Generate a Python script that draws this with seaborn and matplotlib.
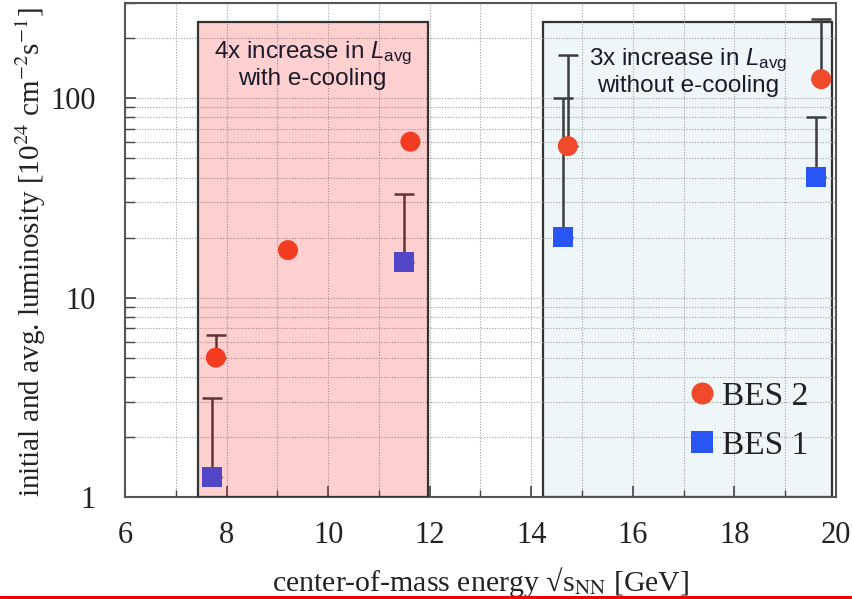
import numpy as np
import pandas as pd
import matplotlib
matplotlib.use("Agg")
import matplotlib.pyplot as plt
import seaborn as sns
from matplotlib.patches import Rectangle
from matplotlib.lines import Line2D
from matplotlib.ticker import MultipleLocator, LogLocator, NullFormatter

# ---------------- data ----------------
bes2_energy = [7.79, 9.21, 11.62, 14.72, 19.71]
bes2_lum = [5.0, 17.3, 60.5, 57.5, 124.5]
bes2_upper = [6.5, np.nan, np.nan, 164.0, 249.0]

bes1_energy = [7.72, 11.50, 14.62, 19.61]
bes1_lum = [1.26, 15.1, 20.1, 40.2]
bes1_upper = [3.13, 33.0, 100.0, 80.0]

region_lines1 = [r"4x increase in $\mathit{L}_{\mathrm{avg}}$",
                 r"3x increase in $\mathit{L}_{\mathrm{avg}}$"]
region_lines2 = ["with e-cooling", "without e-cooling"]
region_start = [7.43, 14.24]
region_end = [11.96, 19.92]
region_top = 240.0

x_ticks = [6, 8, 10, 12, 14, 16, 18, 20]
y_ticks = [1, 10, 100]
y_tick_labels = ["1", "10", "100"]

# ---------------- style ----------------
sns.set_theme(style="white")
plt.rcParams["font.family"] = ["Liberation Serif", "DejaVu Serif"]
plt.rcParams["mathtext.fontset"] = "custom"
plt.rcParams["mathtext.rm"] = "Liberation Sans"
plt.rcParams["mathtext.it"] = "Liberation Sans:italic"
plt.rcParams["mathtext.bf"] = "Liberation Sans:bold"

fig = plt.figure(figsize=(8.53, 5.99), dpi=100)
ax = fig.add_axes([0.1465, 0.1703, 0.8335, 0.8247])
ax.set_yscale("log")
ax.set_xlim(6, 20)
ax.set_ylim(1, 300)

df = pd.concat([
    pd.DataFrame({"energy": bes2_energy, "lum": bes2_lum, "series": "BES 2"}),
    pd.DataFrame({"energy": bes1_energy, "lum": bes1_lum, "series": "BES 1"}),
], ignore_index=True)

# region boxes: the e-cooling box is a translucent overlay, the other sits beneath
fills = [(1.0, 0.03, 0.0, 0.19), "#eef6f8"]
for i in range(2):
    z = 4 if i == 0 else 0.2
    ax.add_patch(Rectangle((region_start[i], 1), region_end[i] - region_start[i],
                           region_top - 1, facecolor=fills[i], edgecolor="#333333",
                           linewidth=1.6, zorder=z))

# error bars (upper only)
for xs, ys, ups in [(bes2_energy, bes2_lum, bes2_upper), (bes1_energy, bes1_lum, bes1_upper)]:
    xs = np.array(xs); ys = np.array(ys); ups = np.array(ups)
    m = ~np.isnan(ups)
    ax.errorbar(xs[m], ys[m], yerr=[np.zeros(m.sum()), ups[m] - ys[m]], fmt="none",
                ecolor="#3d3d3d", elinewidth=1.8, capsize=7, capthick=1.8, zorder=2)

sns.scatterplot(data=df, x="energy", y="lum", hue="series", style="series",
                hue_order=["BES 2", "BES 1"], style_order=["BES 2", "BES 1"],
                palette={"BES 2": "#ef4a2c", "BES 1": "#2a55f5"},
                markers={"BES 2": "o", "BES 1": "s"}, s=207, linewidth=0,
                ax=ax, zorder=3)

# grid and ticks
ax.set_axisbelow(True)
ax.xaxis.set_major_locator(MultipleLocator(2))
ax.xaxis.set_minor_locator(MultipleLocator(1))
ax.set_xticks(x_ticks)
ax.set_yticks(y_ticks)
ax.set_yticklabels(y_tick_labels)
ax.yaxis.set_minor_locator(LogLocator(base=10, subs=np.arange(2, 10)))
ax.yaxis.set_minor_formatter(NullFormatter())
ax.grid(which="both", axis="both", linestyle=(0, (1, 1.5)), color="#a0a0a0", linewidth=0.8)
ax.tick_params(which="both", direction="in", left=True, bottom=True, top=False, right=False,
               colors="#444444", labelcolor="#222222")
ax.tick_params(which="major", length=8, width=1.2, labelsize=22)
ax.tick_params(axis="y", which="major", pad=21)
ax.tick_params(axis="x", which="major", pad=17)
ax.tick_params(axis="y", which="minor", length=7, width=1.0)
ax.tick_params(axis="x", which="minor", length=5, width=1.0)
for sp in ax.spines.values():
    sp.set_color("#555555")
    sp.set_linewidth(1.5)

ax.set_xlabel(r"center-of-mass energy √s$_{\mathrm{NN}}$ [GeV]", fontsize=21.5,
              color="#222222", math_fontfamily="stix")
ax.set_ylabel(r"initial and avg. luminosity [10$^{24}$ cm$^{-2}$s$^{-1}$]", fontsize=21,
              color="#222222", math_fontfamily="stix")
ax.xaxis.set_label_coords(0.5, -0.138)
ax.yaxis.set_label_coords(-0.108, 0.495)

# region annotations
for i in range(2):
    cx = (region_start[i] + region_end[i]) / 2
    y1 = 0.899 if i == 0 else 0.885
    y2 = 0.846 if i == 0 else 0.831
    ax.text(cx, y1, region_lines1[i], transform=ax.get_xaxis_transform(), ha="center",
            va="center", fontsize=17.5, family="Liberation Sans", color="#1a1a2a",
            math_fontfamily="custom", zorder=6)
    ax.text(cx, y2, region_lines2[i], transform=ax.get_xaxis_transform(), ha="center",
            va="center", fontsize=17.5, family="Liberation Sans", color="#1a1a2a", zorder=6)

leg = ax.legend(loc="center left", bbox_to_anchor=(0.772, 0.154), frameon=False,
                fontsize=24, handletextpad=0.15, labelspacing=0.55, handlelength=0.9,
                borderaxespad=0, markerscale=1.1)
for t in leg.get_texts():
    t.set_color("#222222")
leg.set_zorder(7)

# bottom screenshot line
fig.add_artist(Line2D([0, 1], [0.0035, 0.0035], color="#ee0000", linewidth=2.2))
fig.add_artist(Rectangle((0.925, 0), 0.075, 0.003, facecolor="#5a1a10", edgecolor="none",
                         transform=fig.transFigure))

fig.savefig("out.png", dpi=100)
